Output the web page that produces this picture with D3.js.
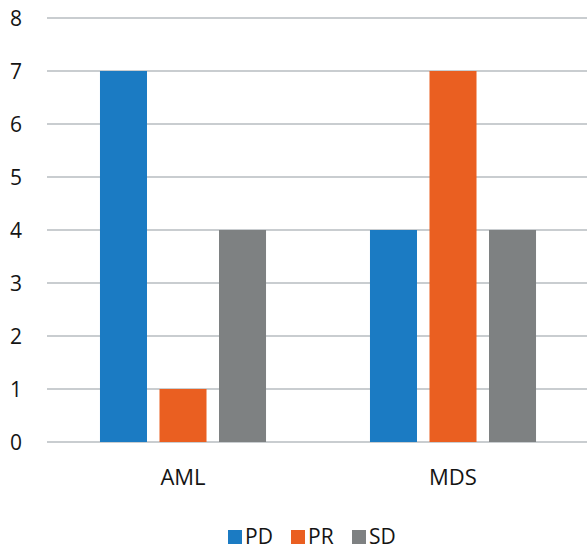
<!DOCTYPE html>
<html>
<head>
<meta charset="utf-8">
<script src="https://cdn.jsdelivr.net/npm/d3@7"></script>
<style>
  html, body { margin: 0; padding: 0; background: #fff; }
  svg { display: block; font-family: "Open Sans", sans-serif; }
</style>
</head>
<body>
<svg id="chart" width="587" height="550"></svg>
<script>
// Response counts per disease group
const categories = ["AML", "MDS"];
const seriesNames = ["PD", "PR", "SD"];
const PD = [7, 4];
const PR = [1, 7];
const SD = [4, 4];
const yTicks = [0, 1, 2, 3, 4, 5, 6, 7, 8];
const colors = ["#1b7bc3", "#ea5f21", "#7e8182"];

const seriesValues = [PD, PR, SD];

const svg = d3.select("#chart");

const y = d3.scaleLinear().domain([0, 8]).range([442, 18]);

const x0 = d3.scaleBand()
  .domain(categories)
  .range([48, 588])
  .paddingInner(0.385)
  .paddingOuter(0.1925);

const x1 = d3.scaleBand()
  .domain(seriesNames)
  .range([0, x0.bandwidth()])
  .paddingInner(0.21);

// horizontal gridlines
svg.append("g")
  .selectAll("line")
  .data(yTicks)
  .join("line")
  .attr("x1", 47)
  .attr("x2", 587)
  .attr("y1", d => y(d))
  .attr("y2", d => y(d))
  .attr("stroke", "#c9cdd0")
  .attr("stroke-width", 2);

// y tick labels
svg.append("g")
  .selectAll("text")
  .data(yTicks)
  .join("text")
  .attr("x", 16)
  .attr("y", d => y(d) + 8)
  .attr("text-anchor", "middle")
  .attr("font-size", 21)
  .attr("fill", "#141414")
  .text(d => d);

// bars
const groups = svg.append("g")
  .selectAll("g")
  .data(categories)
  .join("g")
  .attr("transform", c => `translate(${x0(c)},0)`);

groups.selectAll("rect")
  .data((c, ci) => seriesNames.map((s, si) => ({ s, si, v: seriesValues[si][ci] })))
  .join("rect")
  .attr("x", d => x1(d.s))
  .attr("width", x1.bandwidth())
  .attr("y", d => y(d.v))
  .attr("height", d => y(0) - y(d.v))
  .attr("fill", d => colors[d.si]);

// category labels
svg.append("g")
  .selectAll("text")
  .data(categories)
  .join("text")
  .attr("x", c => x0(c) + x0.bandwidth() / 2)
  .attr("y", 485)
  .attr("text-anchor", "middle")
  .attr("font-size", 22)
  .attr("fill", "#141414")
  .text(c => c);

// legend
const legendX = [228, 291, 352];
const legend = svg.append("g")
  .selectAll("g")
  .data(seriesNames)
  .join("g")
  .attr("transform", (s, i) => `translate(${legendX[i]},530)`);

legend.append("rect")
  .attr("width", 14)
  .attr("height", 14)
  .attr("fill", (s, i) => colors[i]);

legend.append("text")
  .attr("x", 17)
  .attr("y", 14)
  .attr("font-size", 21)
  .attr("fill", "#141414")
  .text(s => s);
</script>
</body>
</html>
